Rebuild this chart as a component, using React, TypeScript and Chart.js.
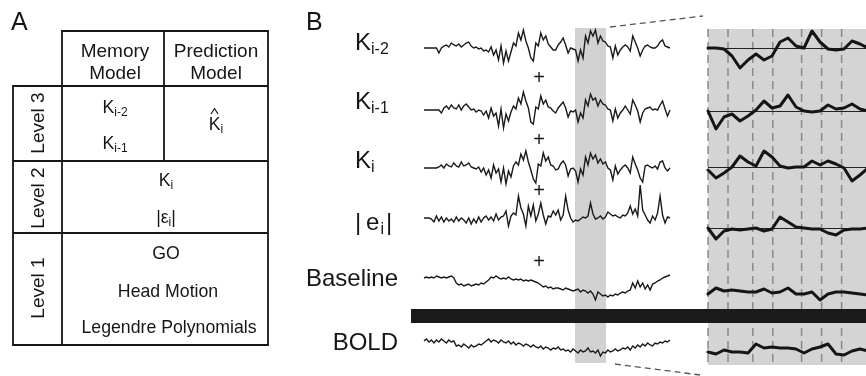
import React, { useEffect, useRef } from "react";
import { Chart, registerables } from "chart.js";
Chart.register(...registerables);

// ---- Data: left traces (signal deflection, up = positive) ----
const kIm2 = [0,0,0,0,0,0,-5,0,2,3,1,5,3,2,4,1,3,5,6,2,0,1,-1,0,-3,-2,-4,1,-7,-2,-12,2,-15,-3,-13,-4,5,2,15,8,18,7,0,-10,-13,5,2,15,8,12,4,1,-2,-2,3,6,10,3,-5,0,-1,-2,-13,-2,-10,12,5,17,12,18,5,12,7,6,2,1,-10,2,-7,-2,1,3,1,-3,12,6,0,-8,-2,2,3,1,0,0,2,6,8,2,1,0];
const kIm1 = [0,0,0,0,0,0,0,-3,2,4,1,5,2,1,5,0,4,6,3,0,1,-2,0,-1,-5,-1,-8,2,-6,-3,-16,1,-18,-4,-11,-2,4,1,12,6,18,9,2,-12,-14,3,1,14,6,10,3,2,-1,-3,2,5,8,2,-7,-1,-2,0,-12,-3,-8,10,4,16,10,12,4,10,6,5,1,0,-11,1,-8,-3,0,4,0,-4,10,5,-1,-12,-3,1,2,3,0,1,0,5,9,1,-6,0];
const kI = [0,0,0,0,0,0,1,3,0,4,2,1,5,2,1,6,2,3,5,1,0,-1,1,-4,0,-7,-2,-10,3,-5,-1,-14,0,-16,-3,-9,2,6,3,14,8,17,6,-2,-11,-15,4,2,15,7,11,3,2,-2,-1,4,7,3,-8,-1,0,-3,-14,-1,-7,11,3,15,9,13,5,9,4,6,0,-2,-12,2,-6,-2,1,3,0,-5,11,4,-2,-10,-14,2,3,1,0,2,-1,6,7,0,-3,0];
const errAbs = [0,0,0,-1,-4,2,-3,1,-4,0,-3,-1,-4,1,-3,0,-2,-5,0,-6,-1,-5,1,-4,0,2,-2,1,-3,4,-2,1,2,7,-8,2,5,3,22,10,4,-8,12,2,13,-3,4,15,3,-6,2,1,7,3,8,-2,3,22,8,0,-4,-2,-3,-1,1,0,2,15,4,-1,0,2,-1,1,6,4,2,3,1,0,3,2,5,12,4,9,2,33,8,3,-2,-5,2,-2,5,22,3,-5,1,0];
const baselineSig = [0,1,0,1,0,2,1,0,1,0,1,2,0,-5,-7,-6,-8,-7,-6,-8,-7,-6,-7,-5,-6,-4,-2,1,0,2,0,-1,0,-1,1,-1,-2,-1,-2,-1,-3,-2,-3,-2,-3,-4,-5,-7,-9,-8,-10,-9,-11,-10,-10,-11,-12,-10,-11,-12,-13,-12,-11,-14,-12,-13,-15,-13,-16,-22,-14,-16,-18,-17,-19,-17,-18,-16,-17,-15,-14,-15,-13,-12,-5,-10,-3,-9,-5,-11,-7,-12,-6,-5,-3,-2,0,1,2,3];
const boldSig = [1,3,0,2,-1,2,0,3,1,-1,2,0,1,-4,-3,-5,-2,-4,-6,-3,-5,-4,-2,-3,-1,1,3,0,2,1,-1,2,0,-1,1,-2,0,-3,-1,-2,-4,-2,-3,-5,-3,-5,-6,-4,-7,-5,-6,-8,-6,-7,-5,-8,-7,-9,-8,-10,-7,-9,-11,-8,-10,-9,-6,-10,-9,-11,-8,-14,-10,-11,-8,-10,-9,-7,-9,-8,-6,-7,-5,-8,-4,-6,-3,-5,-2,-4,-1,-3,-4,-1,-2,0,-1,1,0,2];

// ---- Data: magnified window traces ----
const zKIm2 = [0,0,-1,-8,-20,-12,-6,-12,-8,6,10,2,0,17,6,-1,-2,-1,7,4,0];
const zKIm1 = [0,-18,-6,-3,-10,-5,1,10,3,5,16,4,0,-1,0,6,2,3,7,2,0];
const zKI = [-3,-11,-6,0,11,5,1,16,10,1,-1,0,0,6,2,6,3,-1,-14,-8,-1];
const zErr = [0,-11,-3,-1,-2,-1,0,-3,-1,11,6,1,0,-1,-1,-5,-7,-2,-1,-1,0];
const zBase = [-2,4,1,2,1,0,0,3,-1,0,4,-2,-2,0,-8,-2,0,0,-1,-2,-3];
const zBold = [-2,-4,0,-2,-2,-3,6,2,3,2,2,1,-3,1,3,6,-4,-5,-1,1,-1];

// TR boundaries inside the magnified window (sample index)
const trMarks = [0, 2.5, 5.6, 8.1, 11.7, 14.2, 16.7];

// ---- Labels ----
const rowLabels = ["Level 3", "Level 2", "Level 1"];
const colLabels = [["Memory", "Model"], ["Prediction", "Model"]];
const level1Items = ["GO", "Head Motion", "Legendre Polynomials"];

// ---- Layout ----
const W = 866, H = 376;
const LEFT_X0 = 424, LEFT_X1 = 670;
const Z_X0 = 708, Z_DX = 8;
const leftBases = [48, 110, 168, 218, 278, 342];
const zoomBases = [48, 111, 167, 228, 292, 350];

const FONT = '"Liberation Sans", Arial, Helvetica, sans-serif';
const INK = "#161616";

function leftData(vals: number[], base: number) {
  const dx = (LEFT_X1 - LEFT_X0) / (vals.length - 1);
  return vals.map((v, i) => ({ x: LEFT_X0 + i * dx, y: base - v }));
}
function zoomData(vals: number[], base: number) {
  return vals.map((v, i) => ({ x: Z_X0 + i * Z_DX, y: base - v }));
}

function drawSeq(ctx: CanvasRenderingContext2D, parts: [string, string, number][], x: number, y: number, align: "left" | "center" | "right") {
  let total = 0;
  for (const p of parts) { ctx.font = p[1]; total += ctx.measureText(p[0]).width; }
  let cx = align === "left" ? x : align === "center" ? x - total / 2 : x - total;
  ctx.textAlign = "left";
  ctx.textBaseline = "alphabetic";
  for (const p of parts) {
    ctx.font = p[1];
    ctx.fillText(p[0], cx, y + p[2]);
    cx += ctx.measureText(p[0]).width;
  }
}

const figPlugin = {
  id: "figPlugin",
  beforeDatasetsDraw(chart: any) {
    const ctx: CanvasRenderingContext2D = chart.ctx;
    const sx = chart.scales.x, sy = chart.scales.y;
    const px = (v: number) => sx.getPixelForValue(v);
    const py = (v: number) => sy.getPixelForValue(v);
    ctx.save();
    ctx.fillStyle = "#fff";
    ctx.fillRect(0, 0, W, H);

    // gray highlighted band
    ctx.fillStyle = "#d2d2d2";
    ctx.fillRect(px(575), py(28), px(606) - px(575), py(363) - py(28));
    // magnified panel
    ctx.fillStyle = "#d4d4d4";
    ctx.fillRect(px(Z_X0), py(29), px(W) - px(Z_X0), py(365) - py(29));
    // TR dashed verticals
    ctx.strokeStyle = "#8a8a8a";
    ctx.lineWidth = 1.5;
    ctx.setLineDash([8, 5]);
    for (const t of trMarks) {
      const x = px(Z_X0 + t * Z_DX);
      ctx.beginPath();
      ctx.moveTo(x, py(29));
      ctx.lineTo(x, py(365));
      ctx.stroke();
    }
    // diagonal connector lines
    ctx.strokeStyle = "#555";
    ctx.lineWidth = 1.3;
    ctx.setLineDash([6, 4]);
    ctx.beginPath();
    ctx.moveTo(px(610), py(27)); ctx.lineTo(px(703), py(16));
    ctx.moveTo(px(615), py(364)); ctx.lineTo(px(700), py(375));
    ctx.stroke();
    ctx.setLineDash([]);
    // black bar
    ctx.fillStyle = "#1a1a1a";
    ctx.fillRect(px(411), py(309), px(W) - px(411), py(323) - py(309));

    // thin baselines in magnified panel
    ctx.strokeStyle = "#222";
    ctx.lineWidth = 1;
    for (let k = 0; k < 4; k++) {
      ctx.beginPath();
      ctx.moveTo(px(Z_X0), py(zoomBases[k]) + 0.5);
      ctx.lineTo(px(W), py(zoomBases[k]) + 0.5);
      ctx.stroke();
    }

    // ---------- Panel A ----------
    ctx.fillStyle = INK;
    ctx.font = `25px ${FONT}`;
    ctx.textAlign = "left";
    ctx.textBaseline = "alphabetic";
    ctx.fillText("A", 11, 30);
    ctx.fillText("B", 306, 30);

    ctx.strokeStyle = INK;
    ctx.lineWidth = 1.8;
    const xL = 13, xC1 = 62, xC2 = 164, xR = 268;
    const yT = 31, yH = 86, y3 = 161, y2 = 233, y1 = 345;
    ctx.beginPath();
    ctx.rect(xC1, yT, xR - xC1, yH - yT);
    ctx.rect(xL, yH, xR - xL, y1 - yH);
    ctx.moveTo(xC2, yT); ctx.lineTo(xC2, y3);
    ctx.moveTo(xC1, yH); ctx.lineTo(xC1, y1);
    ctx.moveTo(xL, y3); ctx.lineTo(xR, y3);
    ctx.moveTo(xL, y2); ctx.lineTo(xR, y2);
    ctx.stroke();

    const f19 = `19px ${FONT}`;
    const f18 = `17.7px ${FONT}`;
    const f12 = `12px ${FONT}`;
    ctx.font = f19;
    ctx.textAlign = "center";
    ctx.fillText(colLabels[0][0], 115, 57);
    ctx.fillText(colLabels[0][1], 115, 79);
    ctx.fillText(colLabels[1][0], 216, 57);
    ctx.fillText(colLabels[1][1], 216, 79);

    drawSeq(ctx, [["K", f18, 0], ["i-2", f12, 3]], 115, 113, "center");
    drawSeq(ctx, [["K", f18, 0], ["i-1", f12, 3]], 115, 149, "center");
    drawSeq(ctx, [["K", f18, 0], ["i", f12, 3]], 216, 130, "center");
    // hat
    ctx.lineWidth = 1.2;
    ctx.beginPath();
    ctx.moveTo(211, 114); ctx.lineTo(214.5, 108.5); ctx.lineTo(218, 114);
    ctx.stroke();

    drawSeq(ctx, [["K", f18, 0], ["i", f12, 3]], 166, 186, "center");
    drawSeq(ctx, [["|ε", f18, 0], ["i", f12, 3], ["|", f18, 0]], 166, 223, "center");

    ctx.font = f18;
    ctx.textAlign = "center";
    ctx.fillText(level1Items[0], 166, 259);
    ctx.fillText(level1Items[1], 168, 297);
    ctx.fillText(level1Items[2], 169, 333);

    const rowCenters = [123, 198, 288];
    rowLabels.forEach((lab, i) => {
      ctx.save();
      ctx.translate(39, rowCenters[i]);
      ctx.rotate(-Math.PI / 2);
      ctx.font = f19;
      ctx.textAlign = "center";
      ctx.textBaseline = "middle";
      ctx.fillText(lab, 0, 0);
      ctx.restore();
    });

    // ---------- Panel B labels ----------
    const f24 = `24px ${FONT}`;
    const f16 = `16px ${FONT}`;
    drawSeq(ctx, [["K", f24, 0], ["i-2", f16, 4]], 355, 50, "left");
    drawSeq(ctx, [["K", f24, 0], ["i-1", f16, 4]], 355, 109, "left");
    drawSeq(ctx, [["K", f24, 0], ["i", f16, 4]], 355, 168, "left");
    ctx.font = f24;
    ctx.textAlign = "left";
    ctx.fillText("|", 355, 230);
    ctx.fillText("e", 366, 230);
    ctx.fillText("|", 386, 230);
    ctx.font = f16;
    ctx.fillText("i", 380.5, 234);
    ctx.font = f24;
    ctx.textAlign = "right";
    ctx.fillText("Baseline", 398, 286);
    ctx.fillText("BOLD", 398, 350);

    ctx.font = `20px ${FONT}`;
    ctx.textAlign = "center";
    ctx.textBaseline = "middle";
    for (const yy of [78, 140, 191, 262]) ctx.fillText("+", 539, yy);
    ctx.restore();
  },
};

export default function App() {
  const ref = useRef<HTMLCanvasElement | null>(null);
  useEffect(() => {
    document.body.style.margin = "0";
    const canvas = ref.current!;
    const leftSets = [kIm2, kIm1, kI, errAbs, baselineSig, boldSig].map((v, k) => ({
      data: leftData(v, leftBases[k]),
      borderColor: "#1a1a1a",
      borderWidth: 1.4,
      pointRadius: 0,
      tension: 0,
      fill: false,
    }));
    const zoomSets = [zKIm2, zKIm1, zKI, zErr, zBase, zBold].map((v, k) => ({
      data: zoomData(v, zoomBases[k]),
      borderColor: "#151515",
      borderWidth: 3,
      borderJoinStyle: "round" as const,
      borderCapStyle: "round" as const,
      pointRadius: 0,
      tension: 0,
      fill: false,
    }));
    const chart = new Chart(canvas, {
      type: "line",
      data: { datasets: [...leftSets, ...zoomSets] as any },
      options: {
        animation: false,
        responsive: false,
        maintainAspectRatio: false,
        devicePixelRatio: 1,
        layout: { padding: 0 },
        plugins: { legend: { display: false }, tooltip: { enabled: false } },
        events: [],
        scales: {
          x: { type: "linear", min: 0, max: W, display: false },
          y: { type: "linear", min: 0, max: H, reverse: true, display: false },
        },
      },
      plugins: [figPlugin],
    });
    return () => chart.destroy();
  }, []);
  return (
    <div style={{ width: W, height: H, background: "#fff" }}>
      <canvas ref={ref} width={W} height={H} style={{ display: "block", width: W, height: H }} />
    </div>
  );
}
